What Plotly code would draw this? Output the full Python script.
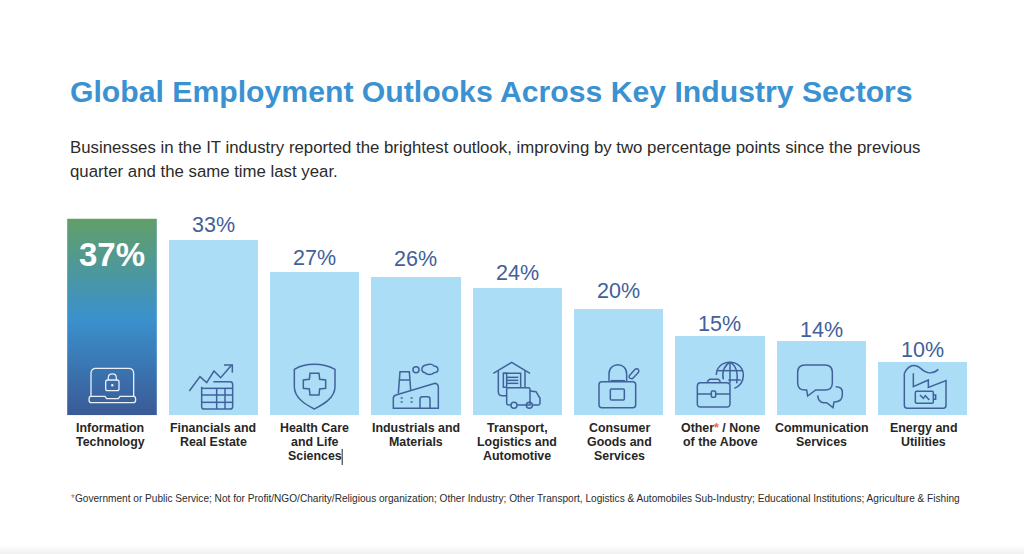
import plotly.graph_objects as go

W, H = 1024, 554
BASE_PX, PX_PER_PCT = 415.3, 5.31
CENTER0, STEP = 112.0, 101.33
BAR_W = 89.4 / STEP

labels = [
    ["Information", "Technology"],
    ["Financials and", "Real Estate"],
    ["Health Care", "and Life", "Sciences"],
    ["Industrials and", "Materials"],
    ["Transport,", "Logistics and", "Automotive"],
    ["Consumer", "Goods and", "Services"],
    ["Other<span style='color:#E8694A'>*</span> / None", "of the Above"],
    ["Communication", "Services"],
    ["Energy and", "Utilities"],
]
values = [37, 33, 27, 26, 24, 20, 15, 14, 10]

TITLE = "Global Employment Outlooks Across Key Industry Sectors"
SUB = ["Businesses in the IT industry reported the brightest outlook, improving by two percentage points since the previous",
       "quarter and the same time last year."]
NOTE = ("Government or Public Service; Not for Profit/NGO/Charity/Religious organization; Other Industry; "
        "Other Transport, Logistics &amp; Automobiles Sub-Industry; Educational Institutions; Agriculture &amp; Fishing")

LIGHT = "#ABDDF6"
INK = "#41619A"
FONT = "Liberation Sans"
# gap in pixels between each bar top and the centre of its value label
LABEL_GAP = [0, 15, 14, 18, 15, 18, 12, 11, 12]
# horizontal nudge in pixels of each category label
LABEL_NUDGE = [-2, 0, 0, 0.5, 0, 0.5, 0.5, 0.5, 0.5]


def px(x):
    return x / W


def py(y):
    return 1 - y / H


def conv(cmds):
    out = []
    for c in cmds:
        parts = [c[0]]
        nums = c[1:]
        for a, b in zip(nums[::2], nums[1::2]):
            parts.append(f"{px(a):.5f},{py(b):.5f}")
        out.append(parts[0] + " ".join(parts[1:]))
    return " ".join(out)


def rrect(x0, y0, x1, y1, r):
    return [("M", x0 + r, y0), ("L", x1 - r, y0), ("Q", x1, y0, x1, y0 + r), ("L", x1, y1 - r),
            ("Q", x1, y1, x1 - r, y1), ("L", x0 + r, y1), ("Q", x0, y1, x0, y1 - r), ("L", x0, y0 + r),
            ("Q", x0, y0, x0 + r, y0), ("Z",)]


def circle(cx, cy, r):
    k = 0.5523 * r
    return [("M", cx + r, cy), ("C", cx + r, cy + k, cx + k, cy + r, cx, cy + r),
            ("C", cx - k, cy + r, cx - r, cy + k, cx - r, cy), ("C", cx - r, cy - k, cx - k, cy - r, cx, cy - r),
            ("C", cx + k, cy - r, cx + r, cy - k, cx + r, cy), ("Z",)]


def line(*pts):
    return [("M", *pts[0])] + [("L", *p) for p in pts[1:]]


def ztx(ox, oy):
    """Maps 3x zoom-crop coordinates onto page pixels."""
    def f(cmds):
        res = []
        for c in cmds:
            n = c[1:]
            m = []
            for a, b in zip(n[::2], n[1::2]):
                m += [ox + a / 3, oy + b / 3]
            res.append((c[0], *m))
        return res
    return f


shapes = []


def add(cmds, color=INK, width=1.5, fill=None):
    shapes.append(dict(type="path", xref="paper", yref="paper", path=conv(cmds),
                       line=dict(color=color, width=width),
                       fillcolor=fill if fill else "rgba(0,0,0,0)", layer="above"))


# laptop
Z = ztx(60, 210)
WHITE = "#E8F0F8"
add(Z([("M", 93, 558), ("L", 93, 490), ("Q", 93, 475, 108, 475), ("L", 206, 475), ("Q", 221, 475, 221, 490), ("L", 221, 558)]), WHITE, 1.3)
add(Z([("M", 92, 559), ("L", 135, 559), ("L", 140, 566), ("L", 175, 566), ("L", 180, 559), ("L", 222, 559),
       ("Q", 227, 559, 227, 569), ("Q", 227, 578, 220, 578), ("L", 94, 578), ("Q", 87, 578, 87, 569), ("Q", 87, 559, 92, 559), ("Z",)]), WHITE, 1.3)
add(Z(rrect(137, 510, 177, 542, 6)), WHITE, 1.3)
add(Z([("M", 145, 510), ("L", 145, 503), ("C", 145, 488, 169, 488, 169, 503), ("L", 169, 510)]), WHITE, 1.3)
add(Z(circle(157, 526, 2)), WHITE, 1.2, WHITE)

# financials
add(Z(line((388, 543), (420, 500), (440, 518), (462, 483), (482, 503), (515, 465))))
add(Z(line((492, 465), (517, 465), (517, 488))))
add(Z([("M", 460, 515), ("L", 510, 515), ("Q", 518, 515, 518, 523), ("L", 518, 590), ("Q", 518, 597, 510, 597),
       ("L", 433, 597), ("Q", 425, 597, 425, 590), ("L", 425, 530)]))
for yy in (535, 555, 577):
    add(Z(line((425, yy), (518, yy))))
for xx in (470, 495):
    add(Z(line((xx, 535), (xx, 597))))

# shield + cross
add(Z([("M", 763, 463), ("C", 740, 463, 720, 468, 703, 478), ("L", 703, 530), ("C", 703, 565, 740, 585, 763, 597),
       ("C", 786, 585, 825, 565, 825, 530), ("L", 825, 478), ("C", 806, 468, 786, 463, 763, 463), ("Z",)]))
add(Z([("M", 750, 490), ("L", 777, 490), ("L", 779, 508), ("L", 797, 510), ("L", 797, 535), ("L", 779, 537), ("L", 777, 555),
       ("L", 750, 555), ("L", 748, 537), ("L", 730, 535), ("L", 730, 510), ("L", 748, 508), ("Z",)]))

# factory
Z = ztx(370, 330)
add(Z([("M", 70, 235), ("L", 70, 205), ("Q", 70, 197, 78, 195), ("L", 195, 160), ("Q", 205, 162, 205, 172), ("L", 205, 235), ("Z",)]))
add(Z(line((85, 190), (90, 125), (118, 125), (122, 180))))
add(Z(line((90, 150), (118, 150))))
add(Z([("M", 150, 235), ("L", 150, 207), ("Q", 150, 200, 157, 200), ("L", 173, 200), ("Q", 180, 200, 180, 207), ("L", 180, 235)]))
for dx, dy in ((95, 204), (125, 204), (95, 216), (125, 216)):
    add(Z(line((dx - 3, dy), (dx + 3, dy))))
add(Z(circle(138, 119, 9)))
add(Z([("M", 168, 105), ("C", 180, 100, 190, 104, 192, 108), ("C", 208, 110, 208, 128, 192, 128), ("C", 185, 136, 168, 134, 165, 128),
       ("C", 152, 126, 152, 108, 168, 105), ("Z",)]))

# warehouse + truck
add(Z(line((370, 130), (425, 97), (480, 130))))
add(Z([("M", 385, 122), ("L", 385, 185), ("Q", 385, 197, 397, 197), ("L", 410, 197)]))
add(Z(line((465, 122), (465, 173))))
add(Z([("M", 410, 173), ("L", 410, 130), ("L", 400, 130), ("L", 400, 172), ("L", 410, 172)]))
add(Z(line((400, 130), (452, 130), (452, 173))))
for yy in (142, 151, 160):
    add(Z(line((408, yy), (445, yy))))
add(Z([("M", 422, 225), ("L", 415, 225), ("Q", 410, 225, 410, 220), ("L", 410, 178), ("Q", 410, 173, 415, 173), ("L", 475, 173),
       ("Q", 480, 173, 480, 178), ("L", 480, 225), ("L", 442, 225)]))
add(Z([("M", 480, 183), ("L", 498, 185), ("L", 510, 205), ("L", 510, 220), ("Q", 510, 225, 505, 225), ("L", 488, 225)]))
add(Z(circle(432, 226, 9)))
add(Z(circle(478, 226, 9)))

# bag
add(Z(rrect(687, 155, 797, 233, 9)))
add(Z([("M", 717, 155), ("L", 717, 132), ("C", 717, 95, 770, 95, 770, 132), ("L", 770, 155)]))
add(Z(line((722, 152), (765, 152))))
add(Z(rrect(721, 177, 763, 210, 3)))
add(Z([("M", 778, 137), ("L", 795, 118), ("Q", 802, 113, 806, 120), ("Q", 808, 125, 803, 130), ("L", 787, 146), ("Q", 775, 147, 778, 137), ("Z",)]))

# other: briefcase + globe
Z = ztx(670, 330)
add(Z(rrect(82, 158, 180, 231, 10)))
add(Z(line((113, 158), (113, 153), (119, 148), (145, 148), (150, 153), (150, 158))))
add(Z(line((82, 192), (123, 192))))
add(Z(line((137, 192), (180, 192))))
add(Z(rrect(124, 183, 137, 202, 3)))
add(Z([("M", 139, 135), ("C", 139, 112, 157, 97, 180, 97), ("C", 203, 97, 220, 114, 220, 135), ("C", 220, 152, 210, 168, 193, 175)]))
add(Z([("M", 160, 148), ("C", 155, 125, 163, 105, 180, 97), ("C", 197, 105, 205, 125, 200, 160)]))
add(Z(line((180, 97), (180, 160))))
add(Z(line((143, 122), (218, 122))))
add(Z(line((175, 150), (212, 150))))

# chat bubbles
add(Z([("M", 405, 105), ("L", 465, 105), ("Q", 487, 105, 487, 127), ("L", 487, 158), ("Q", 487, 180, 465, 180), ("L", 437, 180),
       ("L", 413, 198), ("L", 410, 180), ("L", 405, 180), ("Q", 383, 180, 383, 158), ("L", 383, 127), ("Q", 383, 105, 405, 105), ("Z",)]))
add(Z([("M", 497, 170), ("Q", 517, 170, 517, 187), ("L", 517, 195), ("Q", 517, 215, 492, 216), ("L", 489, 233), ("L", 470, 218),
       ("L", 460, 218), ("Q", 445, 216, 443, 196)]))

# energy
add(Z([("M", 703, 130), ("L", 703, 226), ("Q", 703, 235, 712, 235), ("L", 820, 235), ("Q", 828, 235, 828, 226), ("L", 828, 152),
       ("L", 775, 172), ("L", 775, 150), ("L", 730, 170), ("L", 730, 130)]))
add(Z([("M", 703, 130), ("C", 715, 105, 735, 100, 752, 115), ("C", 770, 132, 790, 132, 805, 118)]))
add(Z(rrect(736, 184, 790, 220, 4)))
add(Z(line((790, 195), (797, 195), (797, 208), (790, 208))))
add(Z(line((750, 195), (760, 205), (766, 197), (778, 210))))

# text caret beside "Sciences"
shapes.append(dict(type="line", xref="paper", yref="paper", x0=px(342.2), x1=px(342.2), y0=py(449), y1=py(465),
                   line=dict(color="#222222", width=1)))
# soft grey band along the bottom edge of the page
for i, c in enumerate(["#FDFDFD", "#FBFBFB", "#F9F9F9", "#F7F7F7", "#F5F5F5", "#F4F4F4", "#F3F3F3", "#F2F2F2"]):
    shapes.append(dict(type="rect", xref="paper", yref="paper", x0=0, x1=1, y0=py(546 + i), y1=py(547 + i) if i < 7 else 0,
                       line=dict(width=0), fillcolor=c, layer="below"))

xs = list(range(len(values)))
fig = go.Figure()
fig.add_trace(go.Bar(
    x=xs, y=values, width=BAR_W, marker=dict(color=[LIGHT] * len(values), line=dict(width=0)),
    hoverinfo="skip", showlegend=False))
half = BAR_W / 2
fig.add_trace(go.Scatter(
    x=[xs[0] - half, xs[0] + half, xs[0] + half, xs[0] - half, xs[0] - half],
    y=[0, 0, values[0], values[0], 0], mode="lines", fill="toself", line=dict(width=0), hoverinfo="skip", showlegend=False,
    fillgradient=dict(type="vertical", colorscale=[[0, "#3A5A96"], [0.49, "#3A91CD"], [1, "#619F68"]])))

annotations = [
    dict(x=xs[0], y=values[0], xref="x", yref="y", yshift=-36, text=f"<b>{values[0]}%</b>", showarrow=False,
         font=dict(family=FONT, size=33, color="white")),
    dict(x=px(68), y=py(91), xref="paper", yref="paper", xanchor="left", yanchor="middle", text=f"<b>{TITLE}</b>",
         showarrow=False, font=dict(family=FONT, size=30.2, color="#3A92D2")),
    dict(x=px(68), y=py(147), xref="paper", yref="paper", xanchor="left", yanchor="middle", text=SUB[0],
         showarrow=False, font=dict(family=FONT, size=16.8, color="#2B2B2B")),
    dict(x=px(68), y=py(172), xref="paper", yref="paper", xanchor="left", yanchor="middle", text=SUB[1],
         showarrow=False, font=dict(family=FONT, size=16.8, color="#2B2B2B")),
    dict(x=px(68.5), y=py(498), xref="paper", yref="paper", xanchor="left", yanchor="middle",
         text=f"<span style='color:#E8694A'>*</span>{NOTE}", showarrow=False,
         font=dict(family=FONT, size=10.1, color="#2B2B2B")),
]
for i, v in enumerate(values):
    if i > 0:
        annotations.append(dict(x=i, y=v, xref="x", yref="y", yanchor="middle", yshift=LABEL_GAP[i], text=f"{v}%",
                                showarrow=False, font=dict(family=FONT, size=21.5, color=INK)))
for i, lines in enumerate(labels):
    for j, t in enumerate(lines):
        annotations.append(dict(x=i, xref="x", xshift=LABEL_NUDGE[i], y=py(427.5 + 14 * j), yref="paper", yanchor="middle",
                                text=f"<b>{t}</b>", showarrow=False, font=dict(family=FONT, size=12.4, color="#262626")))

fig.update_layout(
    width=W, height=H, margin=dict(l=0, r=0, t=0, b=0), paper_bgcolor="white", plot_bgcolor="rgba(0,0,0,0)",
    bargap=0, barmode="overlay", showlegend=False, shapes=shapes, annotations=annotations,
    xaxis=dict(range=[-CENTER0 / STEP, (W - CENTER0) / STEP], domain=[0, 1], visible=False, fixedrange=True),
    yaxis=dict(range=[0, BASE_PX / PX_PER_PCT], domain=[(H - BASE_PX) / H, 1], visible=False, fixedrange=True),
)
fig.write_html("out.html", config=dict(displayModeBar=False),
               post_script="document.body.style.margin='0';document.body.style.overflow='hidden';")
